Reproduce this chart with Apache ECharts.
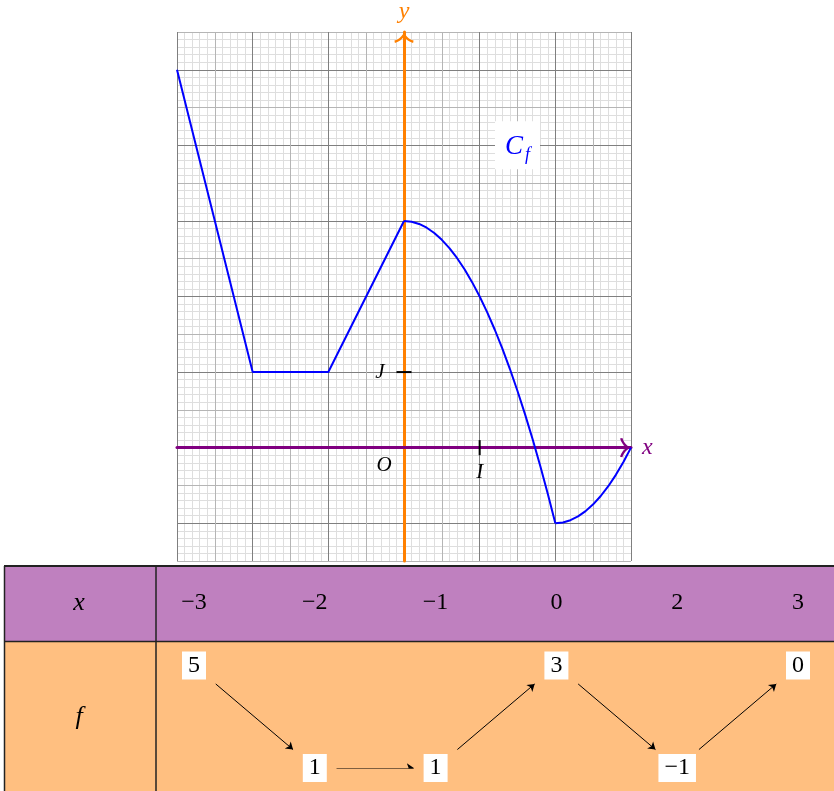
<!DOCTYPE html>
<html>
<head>
<meta charset="utf-8">
<script src="https://cdn.jsdelivr.net/npm/echarts@6/dist/echarts.min.js"></script>
<style>
  html, body { margin: 0; padding: 0; background: #fff; }
  #chart { width: 834px; height: 791px; }
</style>
</head>
<body>
<div id="chart"></div>
<script>
const segPoints = [[-3, 5], [-2, 1], [-1, 1], [0, 3]];
const arcPoints1 = [
  [0, 3], [0.1, 2.99], [0.2, 2.96], [0.3, 2.91], [0.4, 2.84], [0.5, 2.75], [0.6, 2.64],
  [0.7, 2.51], [0.8, 2.36], [0.9, 2.19], [1, 2], [1.1, 1.79], [1.2, 1.56], [1.3, 1.31],
  [1.4, 1.04], [1.5, 0.75], [1.6, 0.44], [1.7, 0.11], [1.8, -0.24], [1.9, -0.61], [2, -1]
];
const arcPoints2 = [
  [2, -1], [2.1, -0.99], [2.2, -0.96], [2.3, -0.91], [2.4, -0.84], [2.5, -0.75],
  [2.6, -0.64], [2.7, -0.51], [2.8, -0.36], [2.9, -0.19], [3, 0]
];
const pointI = [1, 0];
const pointJ = [0, 1];
const pointO = [0, 0];
const curveLabelPos = [1.5, 4];

// tableau de variations
const xLabels = ['−3', '−2', '−1', '0', '2', '3'];
const fLabels = ['5', '1', '1', '3', '−1', '0'];
const fLevels = [1, 0, 0, 1, 0, 1];

const serif = '"Liberation Serif", "DejaVu Serif", serif';
const chevron = 'path://M10,0 C11,3.5 15,7.5 20,9 L19.5,11.5 C15,10 11.5,7.5 10,4.5 C8.5,7.5 5,10 0.5,11.5 L0,9 C5,7.5 9,3.5 10,0 Z';

const arrows = [];
for (let i = 0; i < fLevels.length - 1; i++) {
  const a = fLevels[i], b = fLevels[i + 1];
  let y0 = a, y1 = b;
  if (a !== b) {
    y0 = a ? 0.82 : 0.18;
    y1 = b ? 0.82 : 0.18;
  }
  arrows.push({ coords: [[i + 0.18, y0], [i + 1 - 0.18, y1]] });
}

// papier millimétré : lignes fines sur des axes à part, sous les lignes principales
function minorAxis(min, max) {
  return {
    type: 'value', gridIndex: 0, min: min, max: max, interval: 0.5, z: 0,
    axisLine: { show: false }, axisTick: { show: false }, axisLabel: { show: false },
    splitLine: { show: false },
    minorTick: { show: false, splitNumber: 5 },
    minorSplitLine: { show: true, lineStyle: { color: '#dedede', width: 1 } }
  };
}

const chart = echarts.init(document.getElementById('chart'));
const option = {
  animation: false,
  backgroundColor: '#fff',
  grid: [
    { left: 177, top: 32, width: 454, height: 529 },
    { left: 194, right: 36, top: 665.5, height: 102.5 }
  ],
  xAxis: [
    {
      type: 'value', gridIndex: 0, min: -3, max: 3, interval: 0.5, z: 1,
      axisLine: { onZero: true, onZeroAxisIndex: 0, lineStyle: { color: '#800080', width: 3 }, symbol: ['none', chevron], symbolSize: [20, 11], symbolOffset: [0, -5.5] },
      axisTick: { show: false },
      axisLabel: { show: false },
      splitLine: { show: true, lineStyle: { color: ['#7f7f7f', '#b5b5b5'], width: 1 } },
      name: 'x', nameLocation: 'end', nameGap: 11,
      nameTextStyle: { color: '#800080', fontFamily: serif, fontStyle: 'italic', fontSize: 24 }
    },
    {
      type: 'value', gridIndex: 1, min: 0, max: 5, interval: 1, position: 'top', z: 5,
      axisLine: { show: false }, axisTick: { show: false }, splitLine: { show: false },
      axisLabel: {
        margin: 51, color: '#000', fontFamily: serif, fontSize: 24,
        formatter: v => xLabels[Math.round(v)]
      }
    },
    minorAxis(-3, 3)
  ],
  yAxis: [
    {
      type: 'value', gridIndex: 0, min: -1.5, max: 5.5, interval: 0.5, z: 1,
      axisLine: { onZero: true, onZeroAxisIndex: 0, lineStyle: { color: '#ff8000', width: 3 }, symbol: ['none', chevron], symbolSize: [20, 11], symbolOffset: [0, -5.5] },
      axisTick: { show: false },
      axisLabel: { show: false },
      splitLine: { show: true, lineStyle: { color: ['#b5b5b5', '#7f7f7f'], width: 1 } },
      name: 'y', nameLocation: 'end', nameGap: 8,
      nameTextStyle: { color: '#ff8000', fontFamily: serif, fontStyle: 'italic', fontSize: 24 }
    },
    { type: 'value', gridIndex: 1, min: 0, max: 1, show: false },
    minorAxis(-1.5, 5.5)
  ],
  graphic: [
    { type: 'rect', shape: { x: 4, y: 566, width: 830, height: 75 }, style: { fill: '#bf80bf' } },
    { type: 'rect', shape: { x: 4, y: 641, width: 830, height: 150 }, style: { fill: '#ffbf80' } },
    { type: 'line', shape: { x1: 4, y1: 566, x2: 834, y2: 566 }, style: { stroke: '#222', lineWidth: 2 } },
    { type: 'line', shape: { x1: 4, y1: 641.5, x2: 834, y2: 641.5 }, style: { stroke: '#222', lineWidth: 1.5 } },
    { type: 'line', shape: { x1: 4.5, y1: 566, x2: 4.5, y2: 791 }, style: { stroke: '#222', lineWidth: 1.5 } },
    { type: 'line', shape: { x1: 156, y1: 566, x2: 156, y2: 791 }, style: { stroke: '#222', lineWidth: 1.5 } },
    { type: 'text', x: 79, y: 603, style: { text: 'x', fill: '#000', font: 'italic 26px ' + serif, align: 'center', verticalAlign: 'middle' } },
    { type: 'text', x: 79, y: 717, style: { text: 'f', fill: '#000', font: 'italic 26px ' + serif, align: 'center', verticalAlign: 'middle' } }
  ],
  series: [
    {
      type: 'line', xAxisIndex: 0, yAxisIndex: 0, data: segPoints, symbol: 'none',
      lineStyle: { color: '#0000ff', width: 2 }, z: 4
    },
    {
      type: 'line', xAxisIndex: 0, yAxisIndex: 0, data: arcPoints1, symbol: 'none',
      lineStyle: { color: '#0000ff', width: 2 }, z: 4
    },
    {
      type: 'line', xAxisIndex: 0, yAxisIndex: 0, data: arcPoints2, symbol: 'none',
      lineStyle: { color: '#0000ff', width: 2 }, z: 4
    },
    {
      type: 'scatter', xAxisIndex: 0, yAxisIndex: 0, data: [pointI], symbol: 'rect', symbolSize: [2, 15],
      itemStyle: { color: '#000', opacity: 1 }, z: 5,
      label: { show: true, formatter: 'I', position: 'bottom', distance: 7, color: '#000', fontFamily: serif, fontStyle: 'italic', fontSize: 21 }
    },
    {
      type: 'scatter', xAxisIndex: 0, yAxisIndex: 0, data: [pointJ], symbol: 'rect', symbolSize: [15, 2],
      itemStyle: { color: '#000', opacity: 1 }, z: 5,
      label: { show: true, formatter: 'J', position: 'left', distance: 12, color: '#000', fontFamily: serif, fontStyle: 'italic', fontSize: 21 }
    },
    {
      type: 'scatter', xAxisIndex: 0, yAxisIndex: 0, data: [pointO], symbolSize: 1,
      itemStyle: { color: 'rgba(0,0,0,0)', opacity: 1 }, z: 5,
      label: { show: true, formatter: 'O', position: 'inside', offset: [-20, 18], color: '#000', fontFamily: serif, fontStyle: 'italic', fontSize: 21 }
    },
    {
      type: 'scatter', xAxisIndex: 0, yAxisIndex: 0, data: [curveLabelPos], symbolSize: 1,
      itemStyle: { color: 'rgba(0,0,0,0)', opacity: 1 }, z: 5,
      label: {
        show: true, position: 'inside', formatter: '{c|C}{s|f}',
        backgroundColor: '#fff', padding: [9, 10, 5, 10],
        rich: {
          c: { color: '#0000ff', fontFamily: serif, fontStyle: 'italic', fontSize: 27 },
          s: { color: '#0000ff', fontFamily: serif, fontStyle: 'italic', fontSize: 18, padding: [16, 0, 0, 2] }
        }
      }
    },
    {
      type: 'scatter', xAxisIndex: 1, yAxisIndex: 1, symbolSize: 1, z: 6,
      data: fLevels.map((lv, i) => [i, lv]),
      itemStyle: { color: 'rgba(0,0,0,0)', opacity: 1 },
      label: {
        show: true, position: 'inside', formatter: p => fLabels[p.dataIndex],
        backgroundColor: '#fff', padding: [3, 6, 3, 6], lineHeight: 22,
        color: '#000', fontFamily: serif, fontSize: 24
      }
    },
    {
      type: 'lines', coordinateSystem: 'cartesian2d', xAxisIndex: 1, yAxisIndex: 1, z: 6,
      data: arrows, symbol: ['none', 'arrow'], symbolSize: 7,
      lineStyle: { color: '#000', width: 1, opacity: 1, curveness: 0 }
    }
  ]
};
chart.setOption(option);
</script>
</body>
</html>
